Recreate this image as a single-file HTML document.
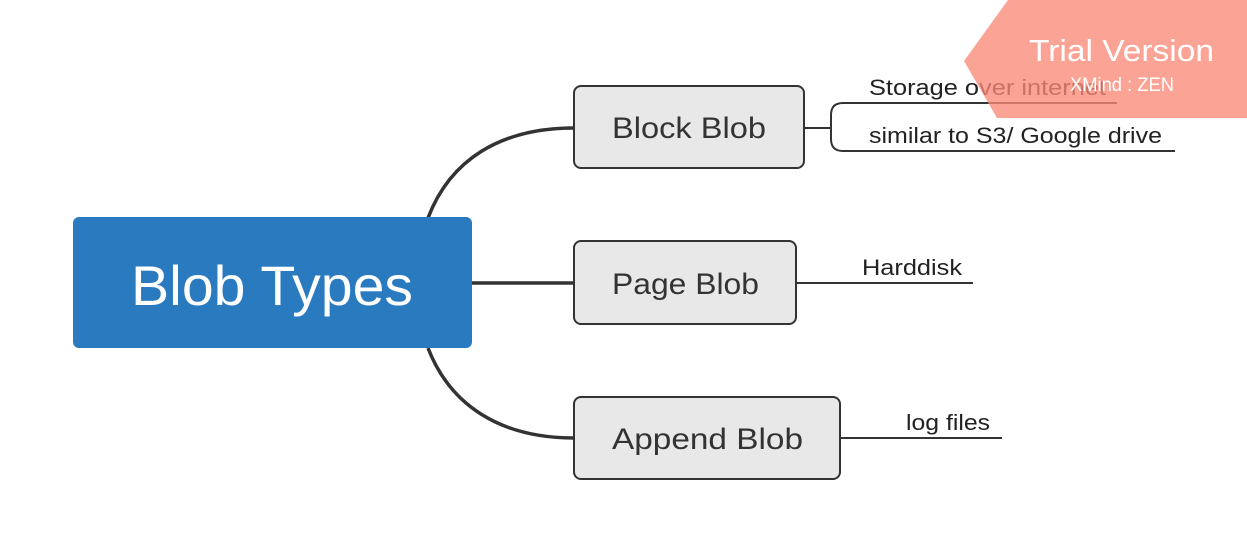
<!DOCTYPE html>
<html><head><meta charset="utf-8"><style>html,body{margin:0;padding:0;background:#fff}</style></head>
<body>
<svg width="1247" height="553" viewBox="0 0 1247 553" xmlns="http://www.w3.org/2000/svg" font-family="Liberation Sans, sans-serif">
<rect width="1247" height="553" fill="#fff"/>
<g fill="none" stroke="#333" stroke-width="3.5">
<path d="M428 218 C450 160 500 128 574 128"/>
<path d="M472 283 L574 283"/>
<path d="M428 348 C450 405 500 438 574 438"/>
</g>
<g fill="none" stroke="#333" stroke-width="2">
<path d="M804 128 L831 128"/>
<path d="M1117 103 L843 103 Q831 103 831 115 L831 139 Q831 151 843 151 L1175 151"/>
<path d="M796 283 L973 283"/>
<path d="M840 438 L1002 438"/>
</g>
<rect x="73" y="217" width="399" height="131" rx="6" fill="#2a7ac0"/>
<text x="272" y="305" font-size="56" fill="#fff" text-anchor="middle" textLength="282" lengthAdjust="spacingAndGlyphs">Blob Types</text>
<g fill="#e8e8e8" stroke="#333" stroke-width="2">
<rect x="574" y="86" width="230" height="82" rx="7"/>
<rect x="574" y="241" width="222" height="83" rx="7"/>
<rect x="574" y="397" width="266" height="82" rx="7"/>
</g>
<g fill="#333" font-size="30">
<text x="612" y="138" textLength="154" lengthAdjust="spacingAndGlyphs">Block Blob</text>
<text x="612" y="294" textLength="147" lengthAdjust="spacingAndGlyphs">Page Blob</text>
<text x="612" y="449" textLength="191" lengthAdjust="spacingAndGlyphs">Append Blob</text>
</g>
<g fill="#222" font-size="22">
<text x="869" y="95" textLength="237" lengthAdjust="spacingAndGlyphs">Storage over internet</text>
<text x="869" y="143" textLength="293" lengthAdjust="spacingAndGlyphs">similar to S3/ Google drive</text>
<text x="862" y="275" textLength="100" lengthAdjust="spacingAndGlyphs">Harddisk</text>
<text x="906" y="430" textLength="84" lengthAdjust="spacingAndGlyphs">log files</text>
</g>
<polygon points="1008,0 1247,0 1247,118 997,118 964,61" fill="#fa8a78" fill-opacity="0.78"/>
<text x="1029" y="61" font-size="31" fill="#fff" textLength="185" lengthAdjust="spacingAndGlyphs">Trial Version</text>
<text x="1070" y="91" font-size="19" fill="#fff" textLength="104" lengthAdjust="spacingAndGlyphs">XMind : ZEN</text>
</svg>
</body></html>
